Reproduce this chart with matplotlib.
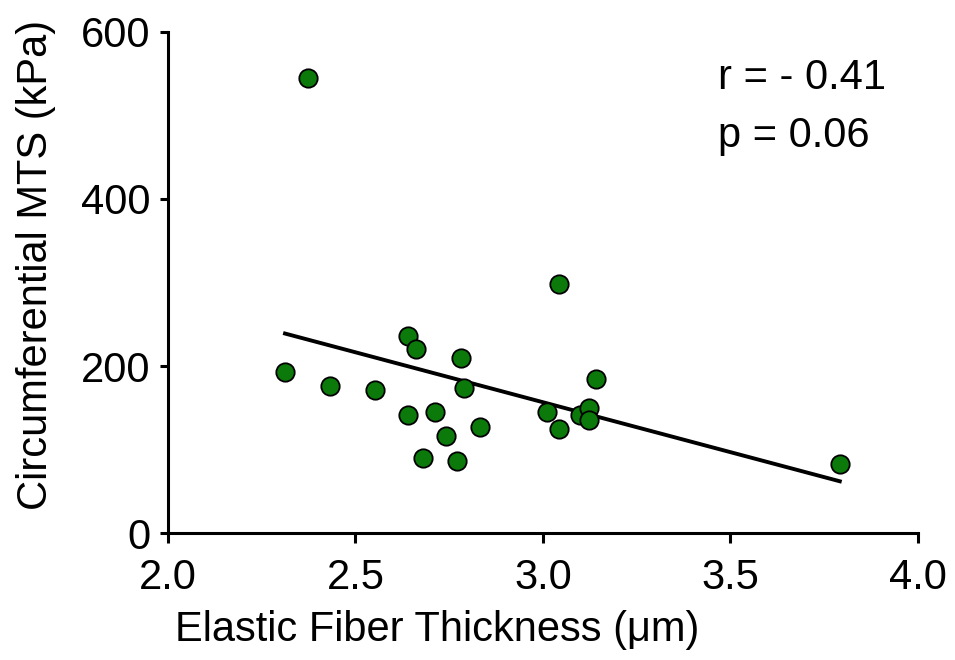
import matplotlib
matplotlib.use("Agg")
import matplotlib.pyplot as plt
import numpy as np

# elastic fiber thickness (um) vs circumferential MTS (kPa)
thickness = [2.373, 2.312, 2.432, 2.552, 2.640, 2.661, 2.640, 2.712, 2.680, 2.741, 2.771,
             2.781, 2.789, 2.832, 3.011, 3.043, 3.043, 3.099, 3.123, 3.123, 3.141, 3.792]
mts = [545, 193, 176, 171, 236, 220, 141, 145, 90, 116, 87,
       210, 174, 127, 145, 298, 125, 141, 150, 135, 184, 83]
stats_text = ["r = - 0.41", "p = 0.06"]

plt.rcParams['font.family'] = ['Liberation Sans', 'DejaVu Sans']

fig = plt.figure(figsize=(9.55, 6.6), dpi=100)
ax = fig.add_axes([0.176, 0.192, 0.785, 0.76])

x = np.array(thickness)
y = np.array(mts)
slope, intercept = np.polyfit(x, y, 1)
xfit = np.array([x.min(), x.max()])
ax.plot(xfit, slope * xfit + intercept, color='k', lw=2.8, zorder=2)

ax.scatter(x, y, s=175, color='#0b7a0b', edgecolor='k', linewidth=1.3, zorder=3)

ax.set_xlim(2.0, 4.0)
ax.set_ylim(0, 600)
ax.set_xticks([2.0, 2.5, 3.0, 3.5, 4.0])
ax.set_xticklabels(["2.0", "2.5", "3.0", "3.5", "4.0"])
ax.set_yticks([0, 200, 400, 600])

for s in ['top', 'right']:
    ax.spines[s].set_visible(False)
for s in ['left', 'bottom']:
    ax.spines[s].set_linewidth(2.2)
ax.tick_params(width=2.2, length=7, labelsize=30)
ax.tick_params(axis='x', pad=11)
ax.tick_params(axis='y', length=6, pad=7)

ax.set_xlabel("Elastic Fiber Thickness (\u03bcm)", fontsize=30, ha='left')
ax.xaxis.set_label_coords(0.009, -0.152)
ax.set_ylabel("Circumferential MTS (kPa)", fontsize=30)
ax.yaxis.set_label_coords(-0.150, 0.534)

ax.text(0.733, 0.908, stats_text[0], transform=ax.transAxes, fontsize=30, va='center')
ax.text(0.733, 0.792, stats_text[1], transform=ax.transAxes, fontsize=30, va='center')

fig.savefig("out.png", dpi=100)
